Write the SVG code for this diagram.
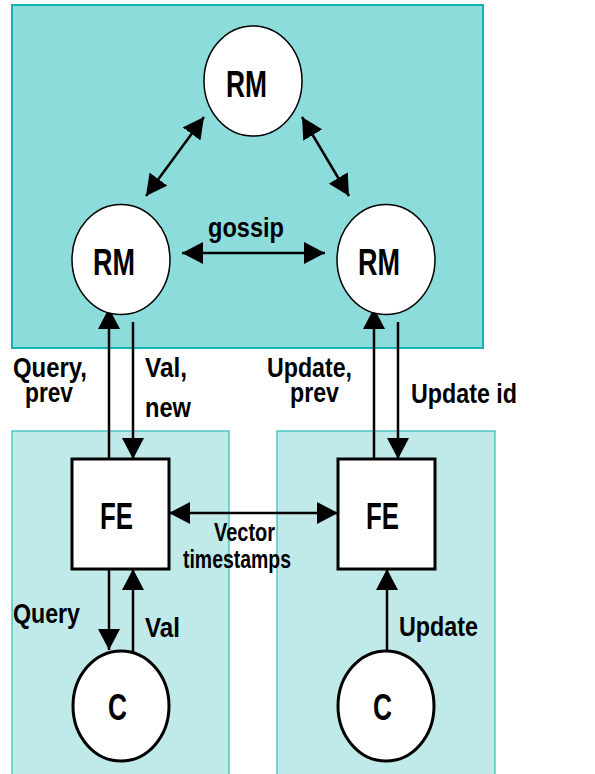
<svg xmlns="http://www.w3.org/2000/svg" width="595" height="774" viewBox="0 0 595 774">
<style>
text{font-family:"Liberation Sans",Arial,sans-serif;font-weight:bold;fill:#000}
.big{font-size:37px}
.lbl{font-size:28px}
.sm{font-size:25px}
.node{fill:#fff;stroke:#000}
.ln{stroke:#000;stroke-width:2.5;fill:none}
</style>
<defs>
<marker id="ah" viewBox="0 0 21 22" refX="21" refY="11" markerWidth="21" markerHeight="22" markerUnits="userSpaceOnUse" orient="auto-start-reverse">
<path d="M0,0 L21,11 L0,22 z" fill="#000"/>
</marker>
</defs>
<rect x="12" y="5" width="471" height="343" fill="#8cdcdc" stroke="#14b3b3" stroke-width="2"/>
<rect x="12" y="431" width="217" height="350" fill="#bfeae9" stroke="#2bbcbc" stroke-width="1.2"/>
<rect x="277" y="431" width="218" height="350" fill="#bfeae9" stroke="#2bbcbc" stroke-width="1.2"/>

<g id="connectors">
<line class="ln" x1="146" y1="196" x2="204" y2="117" marker-start="url(#ah)" marker-end="url(#ah)"/>
<line class="ln" x1="302" y1="117" x2="349" y2="196" marker-start="url(#ah)" marker-end="url(#ah)"/>
<line class="ln" x1="182" y1="253" x2="325" y2="253" marker-start="url(#ah)" marker-end="url(#ah)"/>
<line class="ln" x1="109" y1="459" x2="109" y2="308" marker-end="url(#ah)"/>
<line class="ln" x1="133" y1="322" x2="133" y2="459" marker-end="url(#ah)"/>
<line class="ln" x1="374" y1="459" x2="374" y2="308" marker-end="url(#ah)"/>
<line class="ln" x1="398" y1="322" x2="398" y2="459" marker-end="url(#ah)"/>
<line class="ln" x1="169" y1="513" x2="338" y2="513" marker-start="url(#ah)" marker-end="url(#ah)"/>
<line class="ln" x1="109" y1="569" x2="109" y2="650" marker-end="url(#ah)"/>
<line class="ln" x1="133" y1="652" x2="133" y2="569" marker-end="url(#ah)"/>
<line class="ln" x1="387" y1="651" x2="387" y2="569" marker-end="url(#ah)"/>
</g>

<g id="rm-top"><ellipse class="node" cx="253" cy="81" rx="49" ry="55" stroke-width="1.5"/><text class="big" x="226" y="97" textLength="41" lengthAdjust="spacingAndGlyphs">RM</text></g>
<g id="rm-left"><ellipse class="node" cx="121" cy="259.5" rx="49" ry="55" stroke-width="1.5"/><text class="big" x="93" y="275" textLength="42" lengthAdjust="spacingAndGlyphs">RM</text></g>
<g id="rm-right"><ellipse class="node" cx="386" cy="259.5" rx="49" ry="55" stroke-width="1.5"/><text class="big" x="358" y="275" textLength="42" lengthAdjust="spacingAndGlyphs">RM</text></g>
<g id="fe-left"><rect class="node" x="72" y="459" width="97" height="110" stroke-width="3"/><text class="big" x="100" y="529" textLength="33" lengthAdjust="spacingAndGlyphs">FE</text></g>
<g id="fe-right"><rect class="node" x="338" y="459" width="97" height="110" stroke-width="3"/><text class="big" x="366" y="529" textLength="33" lengthAdjust="spacingAndGlyphs">FE</text></g>
<g id="c-left"><ellipse class="node" cx="121" cy="706" rx="48" ry="55" stroke-width="3"/><text class="big" x="108" y="720" textLength="19" lengthAdjust="spacingAndGlyphs">C</text></g>
<g id="c-right"><ellipse class="node" cx="386" cy="706" rx="48" ry="55" stroke-width="3"/><text class="big" x="373" y="720" textLength="19" lengthAdjust="spacingAndGlyphs">C</text></g>

<g id="labels">
<text class="lbl" x="208" y="237" textLength="76" lengthAdjust="spacingAndGlyphs">gossip</text>
<text class="lbl" x="13" y="377" textLength="74" lengthAdjust="spacingAndGlyphs">Query,</text>
<text class="lbl" x="25" y="402" textLength="48" lengthAdjust="spacingAndGlyphs">prev</text>
<text class="lbl" x="145" y="377" textLength="42" lengthAdjust="spacingAndGlyphs">Val,</text>
<text class="lbl" x="145" y="417" textLength="46" lengthAdjust="spacingAndGlyphs">new</text>
<text class="lbl" x="267" y="377" textLength="85" lengthAdjust="spacingAndGlyphs">Update,</text>
<text class="lbl" x="290" y="402" textLength="49" lengthAdjust="spacingAndGlyphs">prev</text>
<text class="lbl" x="411" y="403" textLength="106" lengthAdjust="spacingAndGlyphs">Update id</text>
<text class="sm" x="214" y="541" textLength="61" lengthAdjust="spacingAndGlyphs">Vector</text>
<text class="sm" x="183" y="568" textLength="108" lengthAdjust="spacingAndGlyphs">timestamps</text>
<text class="lbl" x="13" y="623" textLength="67" lengthAdjust="spacingAndGlyphs">Query</text>
<text class="lbl" x="145" y="637" textLength="35" lengthAdjust="spacingAndGlyphs">Val</text>
<text class="lbl" x="399" y="636" textLength="79" lengthAdjust="spacingAndGlyphs">Update</text>
</g>
</svg>
